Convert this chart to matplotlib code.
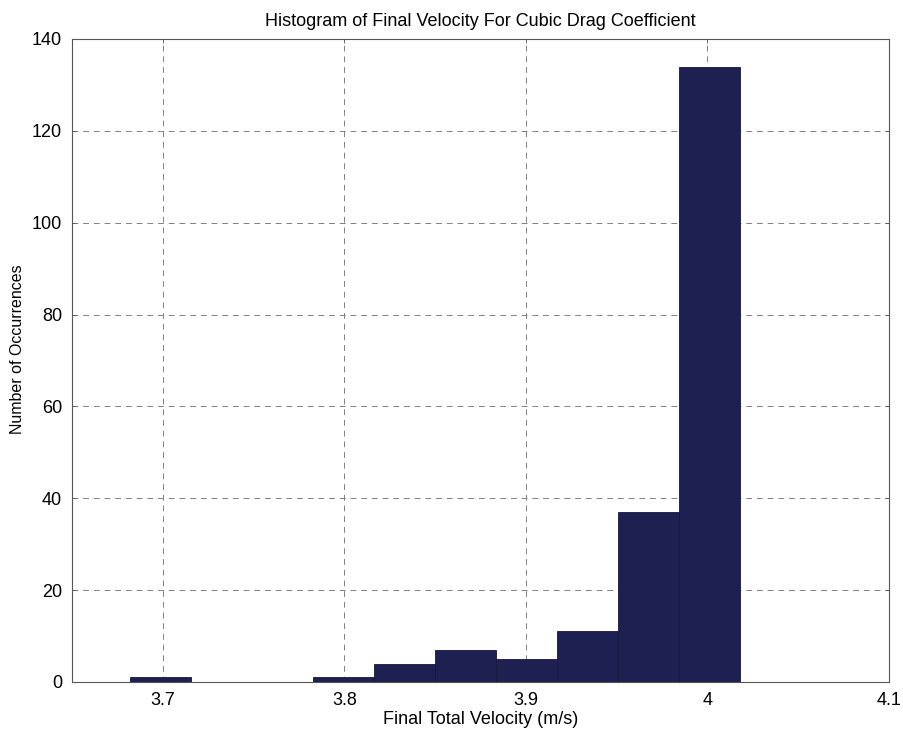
import matplotlib.pyplot as plt
import numpy as np

# histogram
bin_edges = [3.6818, 3.7154, 3.749, 3.7826, 3.8162, 3.8498, 3.8834, 3.917, 3.9506, 3.9842, 4.0178]
counts = [1, 0, 0, 1, 4, 7, 5, 11, 37, 134]
x_ticks = [3.7, 3.8, 3.9, 4.0, 4.1]
x_tick_labels = ['3.7', '3.8', '3.9', '4', '4.1']
y_ticks = [0, 20, 40, 60, 80, 100, 120, 140]

plt.rcParams['font.family'] = ['Liberation Sans', 'DejaVu Sans']

fig = plt.figure(figsize=(9.04, 7.33), dpi=100)
ax = fig.add_axes([0.0796, 0.0696, 0.9038, 0.8772])

edges = np.array(bin_edges)
ax.bar(edges[:-1], counts, width=np.diff(edges), align='edge',
       color='#1d2050', edgecolor='#15173a', linewidth=0.6, zorder=3)

ax.set_xlim(3.65, 4.1)
ax.set_ylim(0, 140)
ax.set_xticks(x_ticks)
ax.set_xticklabels(x_tick_labels)
ax.set_yticks(y_ticks)
ax.tick_params(direction='in', length=3, labelsize=13, width=0.6, color='#555555',
               top=True, right=True, pad=7)
ax.grid(True, linestyle=(0, (6, 5)), color='#808080', linewidth=0.7, zorder=0)
for s in ax.spines.values():
    s.set_color('#555555')
    s.set_linewidth(0.8)

ax.set_xlabel('Final Total Velocity (m/s)', fontsize=13, labelpad=2)
ax.set_ylabel('Number of Occurrences', fontsize=11.5)
ax.yaxis.set_label_coords(-0.057, 0.518)
ax.set_title('Histogram of Final Velocity For Cubic Drag Coefficient', fontsize=13, pad=9)

plt.savefig('out.png', dpi=100)
plt.close()
